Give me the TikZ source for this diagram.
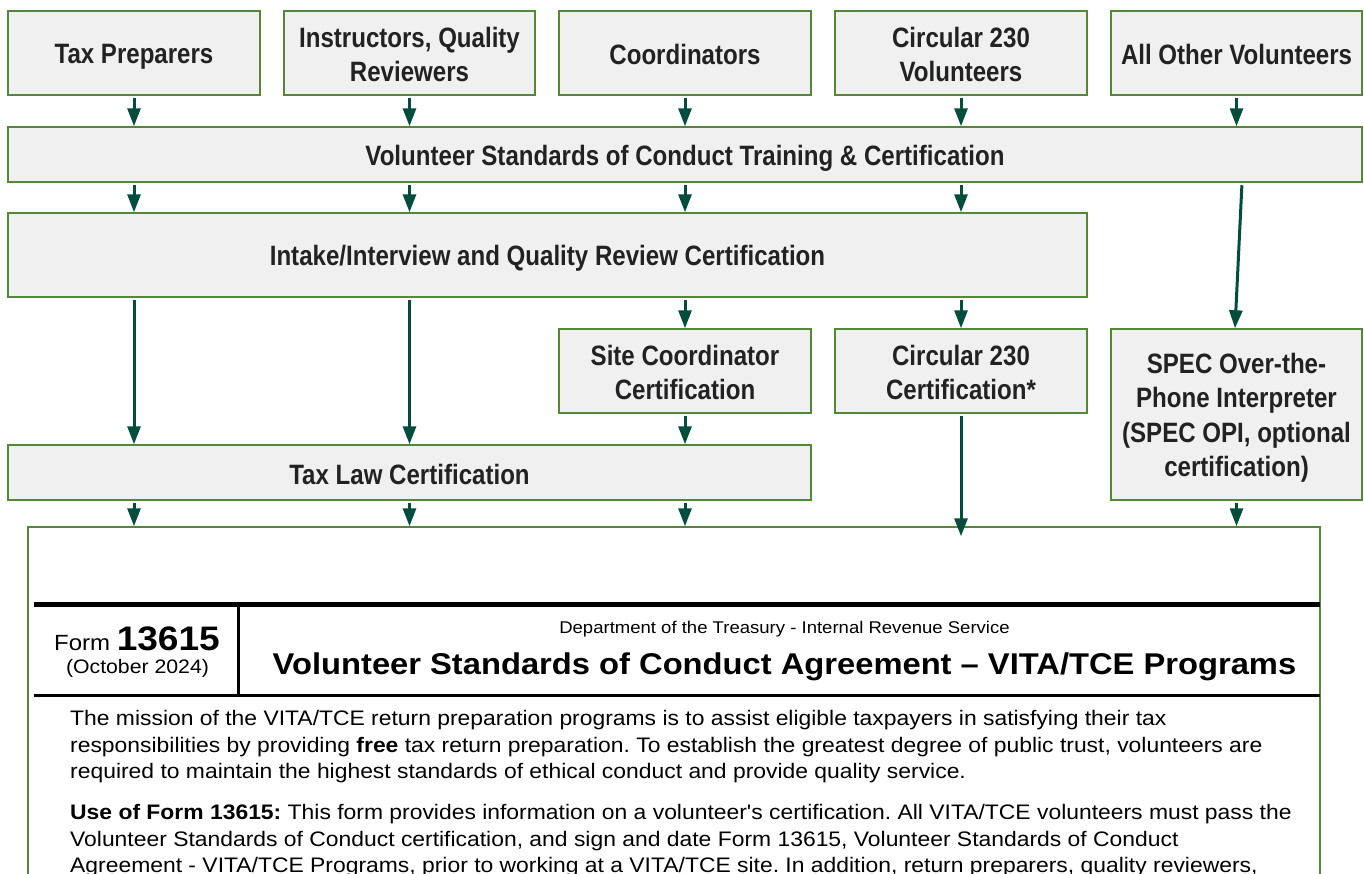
\documentclass[tikz,border=0pt]{standalone}
\usepackage{fontspec}
\usepackage{tikz}
\usetikzlibrary{arrows.meta}
\setmainfont{Liberation Sans}
\newfontfamily\narrowfont[FakeStretch=0.86]{Liberation Sans}
\newfontfamily\formfont[FakeStretch=1.09]{Liberation Sans}
\newcommand\boxstrut{\rule[-4pt]{0pt}{31pt}}
\definecolor{boxline}{RGB}{84,136,56}
\definecolor{boxfill}{RGB}{240,240,240}
\definecolor{arrowgreen}{RGB}{4,76,60}
\definecolor{boxtext}{RGB}{34,34,34}

\begin{document}
\frenchspacing
\begin{tikzpicture}[x=1pt, y=-1pt,
        box/.style={draw=boxline, fill=boxfill, line width=1.5pt, inner sep=0pt, align=center,
            text=boxtext, font=\fontsize{28}{34.5}\selectfont\narrowfont\bfseries,
            execute at begin node=\boxstrut, execute at end node=\boxstrut},
        arr/.style={draw=arrowgreen, line width=3pt, shorten <=2.5pt,
            -{Triangle[length=18pt, width=13pt]}},
        body/.style={anchor=base west, inner sep=0pt, font=\fontsize{21}{21}\selectfont\formfont}]
    \clip (0,0) rectangle (1364,873);
    \fill[white] (0,0) rectangle (1364,873);

    \node[box, minimum width=252, minimum height=84] (tp) at (134,53) {Tax Preparers};
    \node[box, minimum width=251, minimum height=84] (iqr) at (409.5,53) {\boxstrut Instructors, Quality\\Reviewers};
    \node[box, minimum width=252, minimum height=84] (coord) at (685,53) {Coordinators};
    \node[box, minimum width=252, minimum height=84] (c230v) at (961,53) {\boxstrut Circular 230\\Volunteers};
    \node[box, minimum width=251, minimum height=84] (aov) at (1236.5,53) {All Other Volunteers};

    \node[box, minimum width=1354, minimum height=55] (vsc) at (685,154.5) {Volunteer Standards of Conduct Training \& Certification};
    \node[box, minimum width=1079, minimum height=84] (intake) at (547.5,255) {Intake/Interview and Quality Review Certification};

    \node[box, minimum width=252, minimum height=84] (sitec) at (685,371) {\boxstrut Site Coordinator\\Certification};
    \node[box, minimum width=252, minimum height=84] (c230c) at (961,371) {\boxstrut Circular 230\\Certification*};
    \node[box, minimum width=251, minimum height=171] (spec) at (1236.5,414.5) {\boxstrut SPEC Over-the-\\Phone Interpreter\\(SPEC OPI, optional\\certification)};
    \node[box, minimum width=803, minimum height=55] (taxlaw) at (409.5,472.5) {Tax Law Certification};

    \node[draw=boxline, line width=1.5pt, fill=white, minimum width=1292, minimum height=373, inner sep=0pt] (form) at (674,713.5) {};

    \foreach \n in {tp, iqr, coord, c230v, aov}
        \draw[arr] (\n) -- (\n |- vsc.north);
    \foreach \n in {tp, iqr, coord, c230v}
        \draw[arr] (vsc.south -| \n) -- (intake.north -| \n);
    \draw[arr] ([xshift=5.5pt]vsc.south -| aov) -- ([xshift=-1.5pt]spec.north);
    \foreach \n in {tp, iqr}
        \draw[arr] (intake.south -| \n) -- (taxlaw.north -| \n);
    \draw[arr] (intake.south -| sitec) -- (sitec.north);
    \draw[arr] (intake.south -| c230c) -- (c230c.north);
    \draw[arr] (sitec) -- (sitec |- taxlaw.north);
    \draw[arr] (c230c) -- ([yshift=-10pt]form.north -| c230c);
    \foreach \n in {tp, iqr, coord}
        \draw[arr] (taxlaw.south -| \n) -- (form.north -| \n);
    \draw[arr] (spec) -- (spec |- form.north);

    \draw[line width=5pt] (34,604.5) -- (1320,604.5);
    \draw[line width=3pt] (34,695.5) -- (1320,695.5);
    \draw[line width=3pt] (238,607) -- (238,694);

    \node[anchor=base, inner sep=0pt] (formno) at (137,650) {\formfont\fontsize{22}{22}\selectfont Form \fontsize{34}{34}\selectfont\bfseries 13615};
    \node[anchor=base, inner sep=0pt] (formdate) at (137.5,673) {\formfont\fontsize{19.5}{19.5}\selectfont (October 2024)};
    \node[anchor=base, inner sep=0pt] (dept) at (784.5,633) {\formfont\fontsize{17}{17}\selectfont Department of the Treasury - Internal Revenue Service};
    \node[anchor=base, inner sep=0pt] (title) at (784.5,674) {\formfont\fontsize{30}{30}\selectfont\bfseries Volunteer Standards of Conduct Agreement – VITA/TCE Programs};

    \node[body] (l1) at (70,725) {The mission of the VITA/TCE return preparation programs is to assist eligible taxpayers in satisfying their tax};
    \node[body] (l2) at (70,752) {responsibilities by providing \textbf{free} tax return preparation. To establish the greatest degree of public trust, volunteers are};
    \node[body] (l3) at (70,778) {required to maintain the highest standards of ethical conduct and provide quality service.};
    \node[body] (l4) at (70,819) {\textbf{Use of Form 13615:} This form provides information on a volunteer's certification. All VITA/TCE volunteers must pass the};
    \node[body] (l5) at (70,846) {Volunteer Standards of Conduct certification, and sign and date Form 13615, Volunteer Standards of Conduct};
    \node[body] (l6) at (70,872) {Agreement - VITA/TCE Programs, prior to working at a VITA/TCE site. In addition, return preparers, quality reviewers,};
\end{tikzpicture}
\end{document}
